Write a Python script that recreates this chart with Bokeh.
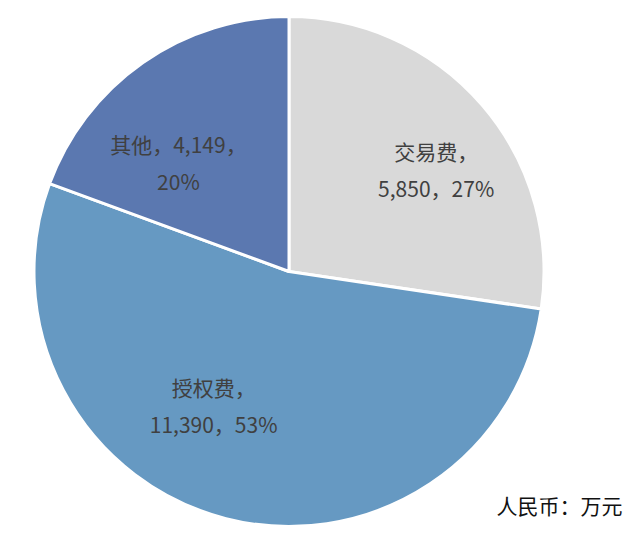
import math

from bokeh.plotting import figure
from bokeh.models import ColumnDataSource, Label
from bokeh.embed import file_html
from bokeh.resources import INLINE
from bokeh.core.properties import value

# data
categories = ["交易费", "授权费", "其他"]
amounts = [5850, 11390, 4149]
pct_labels = ["27%", "53%", "20%"]
unit_note = "人民币：万元"

colors = ["#d9d9d9", "#6699c2", "#5b78b0"]

W, H = 625, 537
cx, cy = 288.5, 266
R = 255

# label placement (polar, relative to pie centre)
label_angle_deg = [34.7, -119.3, 135.5]
label_radius = [179, 154, 155]

total = sum(amounts)
fracs = [a / total for a in amounts]
starts, ends = [], []
acc = 0.0
for f in fracs:
    s = math.pi / 2 - acc * 2 * math.pi
    e = s - f * 2 * math.pi
    starts.append(s)
    ends.append(e)
    acc += f

line1, line2 = [], []
for c, a, q in zip(categories, amounts, pct_labels):
    if c == "其他":
        line1.append(f"{c}，{a:,}，")
        line2.append(q)
    else:
        line1.append(f"{c}，")
        line2.append(f"{a:,}，{q}")

lx = [cx + r * math.cos(math.radians(d)) for r, d in zip(label_radius, label_angle_deg)]
ly = [cy + r * math.sin(math.radians(d)) for r, d in zip(label_radius, label_angle_deg)]

src = ColumnDataSource(dict(
    x=[cx] * len(amounts), y=[cy] * len(amounts),
    start=starts, end=ends, color=colors,
    lx=lx, ly1=[v + 18.5 for v in ly], ly2=[v - 18.5 for v in ly],
    line1=line1, line2=line2,
))

p = figure(width=W, height=H, x_range=(0, W), y_range=(0, H),
           output_backend="svg", toolbar_location=None, min_border=0)
p.axis.visible = False
p.grid.visible = False
p.outline_line_color = None
p.background_fill_color = "white"

p.wedge(x="x", y="y", radius=R, start_angle="start", end_angle="end",
        direction="clock", fill_color="color", line_color="white",
        line_width=3, source=src)

font = value("Noto Sans CJK SC")
p.text(x="lx", y="ly1", text="line1", source=src, text_font=font,
       text_font_size="21px", text_color="#404040",
       text_align="center", text_baseline="middle")
p.text(x="lx", y="ly2", text="line2", source=src, text_font=font,
       text_font_size="21px", text_color="#404040",
       text_align="center", text_baseline="middle")

p.add_layout(Label(x=622, y=33, text=unit_note, text_font="Noto Sans CJK SC",
                   text_font_size="21px", text_color="#111111",
                   text_align="right", text_baseline="middle"))

open("out.html", "w").write(file_html(p, INLINE))
